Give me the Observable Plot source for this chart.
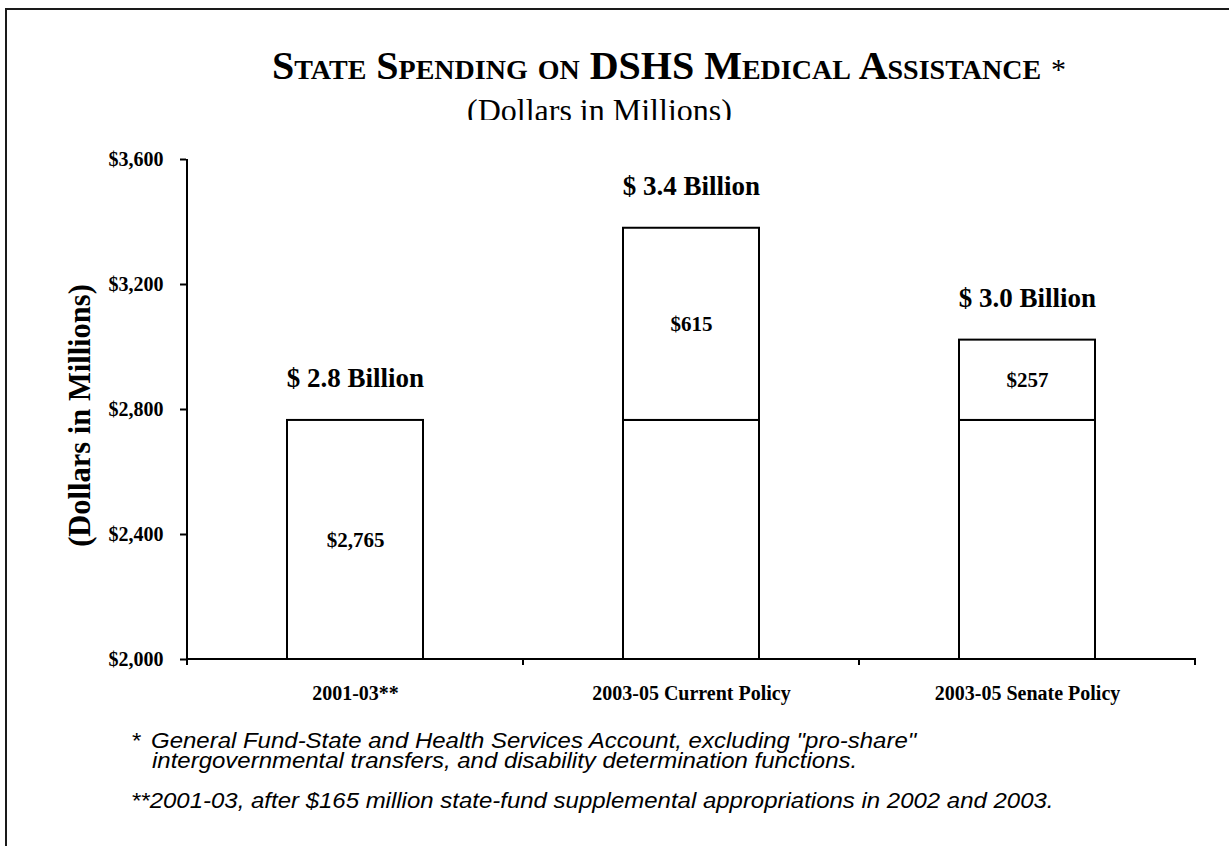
<!DOCTYPE html>
<html>
<head>
<meta charset="utf-8">
<script src="https://cdn.jsdelivr.net/npm/d3@7"></script>
<script src="https://cdn.jsdelivr.net/npm/@observablehq/plot@0.6"></script>
<style>
html, body { margin: 0; padding: 0; background: #fff; overflow: hidden; }
#wrap { position: relative; width: 1229px; height: 846px; overflow: hidden; background: #fff; }
#frame { position: absolute; left: 5px; top: 8px; width: 1400px; height: 1000px; border: 2px solid #1a1a1a; box-sizing: border-box; }
.t { position: absolute; white-space: pre; color: #000; }
#title { left: 272px; top: 46px; font: bold 40px/40px "Liberation Serif", serif; font-variant: small-caps; }
#title span { font-weight: normal; font-variant: normal; font-size: 30px; }
#subclip { position: absolute; left: 467px; top: 90px; width: 320px; height: 30px; overflow: hidden; }
#subtitle { left: 0; top: 4px; font: 32px/32px "Liberation Serif", serif; }
.fn { font: italic 22px/18px "Liberation Sans", Arial, sans-serif; transform: scaleX(1.09); transform-origin: left center; }
#chart { position: absolute; left: 0; top: 130px; }
</style>
</head>
<body>
<div id="wrap">
  <div id="frame"></div>
  <div class="t" id="title"></div>
  <div id="subclip"><div class="t" id="subtitle"></div></div>
  <div id="chart"></div>
  <div class="t fn" id="fn1star" style="left:131px; top:732px;"></div>
  <div class="t fn" id="fn1a" style="left:151px; top:732px;"></div>
  <div class="t fn" id="fn1b" style="left:152px; top:752px;"></div>
  <div class="t fn" id="fn2" style="left:131px; top:792px;"></div>
</div>
<script>
// ---- data ----
const categories = ["2001-03**", "2003-05 Current Policy", "2003-05 Senate Policy"];
const baseSpending = [2765, 2765, 2765];
const addedSpending = [0, 615, 257];
const yTicks = [2000, 2400, 2800, 3200, 3600];
const yDomain = [2000, 3600];

const titleText = "State Spending on DSHS Medical Assistance";
const subtitleText = "(Dollars in Millions)";
const yLabel = "(Dollars in Millions)";
const footnote1a = "General Fund-State and Health Services Account, excluding \"pro-share\"";
const footnote1b = "intergovernmental transfers, and disability determination functions.";
const footnote2 = "**2001-03, after $165 million state-fund supplemental appropriations in 2002 and 2003.";

// ---- text ----
document.getElementById("title").innerHTML = titleText + " <span>*</span>";
document.getElementById("subtitle").textContent = subtitleText;
document.getElementById("fn1star").textContent = "*";
document.getElementById("fn1a").textContent = footnote1a;
document.getElementById("fn1b").textContent = footnote1b;
document.getElementById("fn2").textContent = footnote2;

// ---- derived tables ----
const money = d => "$" + d3.format(",")(d);
const segments = [];
categories.forEach((c, i) => {
  segments.push({cat: c, y1: yDomain[0], y2: baseSpending[i], label: addedSpending[i] === 0 ? money(baseSpending[i]) : ""});
  if (addedSpending[i] > 0) {
    segments.push({cat: c, y1: baseSpending[i], y2: baseSpending[i] + addedSpending[i], label: money(addedSpending[i])});
  }
});
const totals = categories.map((c, i) => ({
  cat: c,
  total: baseSpending[i] + addedSpending[i],
  label: "$ " + d3.format(".1f")((baseSpending[i] + addedSpending[i]) / 1000) + " Billion"
}));

// custom axis lines drawn through the scales
function axisLines(index, scales, values, dimensions) {
  const {x, y} = scales;
  let edges;
  if (x && typeof x.step === "function") {
    const step = x.step(), bw = x.bandwidth();
    edges = categories.map(c => x(c) - (step - bw) / 2);
    edges.push(x(categories[categories.length - 1]) + bw + (step - bw) / 2);
  } else {
    const {width, marginLeft, marginRight} = dimensions;
    const w = (width - marginLeft - marginRight) / categories.length;
    edges = d3.range(categories.length + 1).map(k => marginLeft + k * w);
  }
  const y0 = y(yDomain[0]), yTop = y(yDomain[1]);
  const g = d3.create("svg:g").attr("stroke", "#000").attr("stroke-width", 2).attr("fill", "none");
  g.append("line").attr("x1", edges[0]).attr("x2", edges[0]).attr("y1", yTop).attr("y2", y0 + 6);
  g.append("line").attr("x1", edges[0] - 1).attr("x2", edges[edges.length - 1] + 1).attr("y1", y0).attr("y2", y0);
  edges.slice(1).forEach(e => {
    g.append("line").attr("x1", e).attr("x2", e).attr("y1", y0).attr("y2", y0 + 6);
  });
  return g.node();
}

const chart = Plot.plot({
  width: 1229,
  height: 600,
  marginTop: 29,
  marginBottom: 71,
  marginLeft: 186,
  marginRight: 34,
  style: {fontFamily: '"Liberation Serif", "Times New Roman", serif', background: "none", overflow: "visible", color: "#000"},
  x: {domain: categories, paddingInner: 0.596, paddingOuter: 0.298, label: null},
  y: {domain: yDomain, label: null},
  marks: [
    Plot.barY(segments, {x: "cat", y1: "y1", y2: "y2", fill: "white", stroke: "black", strokeWidth: 2}),
    Plot.text(segments, {x: "cat", y: d => (d.y1 + d.y2) / 2, text: "label", fontSize: 21, fontWeight: "bold", fill: "black"}),
    Plot.text(totals, {x: "cat", y: "total", text: "label", dy: -42, lineAnchor: "middle", fontSize: 27, fontWeight: "bold", fill: "black"}),
    Plot.axisY({ticks: yTicks, tickSize: 6, tickPadding: 17, strokeWidth: 2, tickFormat: money, fontSize: 20, fontWeight: "bold", label: null}),
    Plot.axisX({tickSize: 0, tickPadding: 26, fontSize: 20, fontWeight: "bold", label: null}),
    Plot.text([yLabel], {frameAnchor: "left", dx: -106, dy: 6, rotate: -90, textAnchor: "middle", lineAnchor: "middle", fontSize: 30.5, fontWeight: "bold", fill: "black"}),
    axisLines
  ]
});
document.getElementById("chart").appendChild(chart);
</script>
</body>
</html>
